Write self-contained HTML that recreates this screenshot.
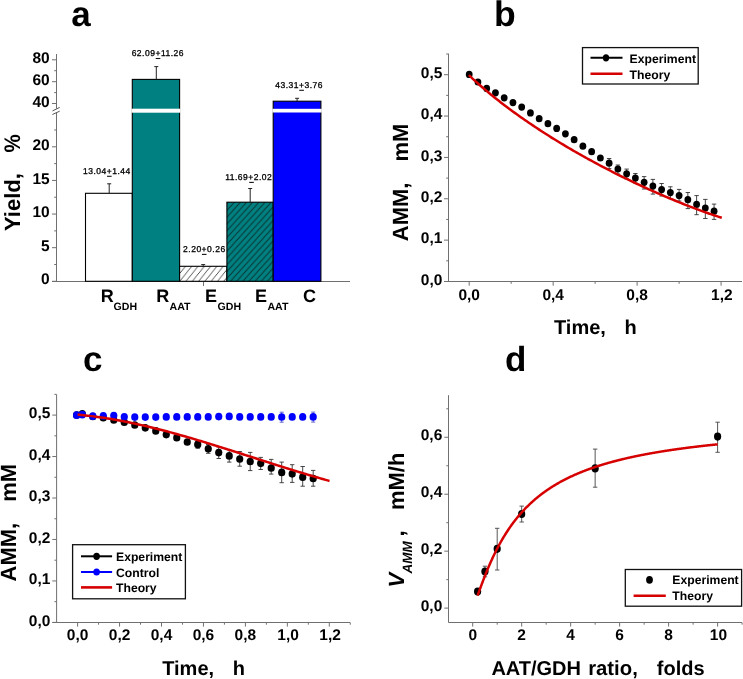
<!DOCTYPE html>
<html><head><meta charset="utf-8"><style>
html,body{margin:0;padding:0;background:#fff;}
svg{display:block;will-change:transform;}
text{font-family:"Liberation Sans",sans-serif;text-rendering:geometricPrecision;}
</style></head><body>
<svg width="743" height="679" viewBox="0 0 743 679">
<defs>
<pattern id="hatchW" patternUnits="userSpaceOnUse" width="6.3" height="7.8" x="180.07" y="0">
<rect width="6.3" height="7.8" fill="#fff"/>
<path d="M-1.575,1.95 L1.575,-1.95 M0,7.8 L6.3,0 M4.725,9.75 L7.875,5.85" stroke="#222" stroke-width="0.8"/>
</pattern>
<pattern id="hatchT" patternUnits="userSpaceOnUse" width="6.15" height="6.8" x="226.55" y="0">
<rect width="6.15" height="6.8" fill="#008080"/>
<path d="M-1.5375,1.7 L1.5375,-1.7 M0,6.8 L6.15,0 M4.6125,8.5 L7.6875,5.1" stroke="#0a3030" stroke-width="0.9"/>
</pattern>
</defs>
<rect width="743" height="679" fill="#fff"/>
<text x="71.30" y="25.50" font-size="35" font-weight="bold" font-style="normal" text-anchor="start" fill="#000" >a</text>
<line x1="56.50" y1="54.00" x2="56.50" y2="108.60" stroke="#707070" stroke-width="1"/>
<line x1="56.50" y1="112.90" x2="56.50" y2="281.50" stroke="#707070" stroke-width="1"/>
<line x1="52.50" y1="110.90" x2="59.70" y2="107.40" stroke="#555" stroke-width="1"/>
<line x1="52.40" y1="114.50" x2="59.70" y2="111.20" stroke="#555" stroke-width="1"/>
<line x1="52.00" y1="281.50" x2="350.00" y2="281.50" stroke="#707070" stroke-width="1"/>
<line x1="52.00" y1="59.80" x2="56.50" y2="59.80" stroke="#707070" stroke-width="1"/>
<text x="49.70" y="62.90" font-size="15.5" font-weight="bold" font-style="normal" text-anchor="end" fill="#000" >80</text>
<line x1="52.00" y1="81.70" x2="56.50" y2="81.70" stroke="#707070" stroke-width="1"/>
<text x="49.70" y="84.80" font-size="15.5" font-weight="bold" font-style="normal" text-anchor="end" fill="#000" >60</text>
<line x1="52.00" y1="103.50" x2="56.50" y2="103.50" stroke="#707070" stroke-width="1"/>
<text x="49.70" y="106.60" font-size="15.5" font-weight="bold" font-style="normal" text-anchor="end" fill="#000" >40</text>
<line x1="54.20" y1="70.70" x2="56.50" y2="70.70" stroke="#707070" stroke-width="1"/>
<line x1="54.20" y1="92.60" x2="56.50" y2="92.60" stroke="#707070" stroke-width="1"/>
<line x1="52.00" y1="281.30" x2="56.50" y2="281.30" stroke="#707070" stroke-width="1"/>
<text x="49.70" y="284.40" font-size="15.5" font-weight="bold" font-style="normal" text-anchor="end" fill="#000" >0</text>
<line x1="52.00" y1="247.68" x2="56.50" y2="247.68" stroke="#707070" stroke-width="1"/>
<text x="49.70" y="250.78" font-size="15.5" font-weight="bold" font-style="normal" text-anchor="end" fill="#000" >5</text>
<line x1="52.00" y1="214.05" x2="56.50" y2="214.05" stroke="#707070" stroke-width="1"/>
<text x="49.70" y="217.15" font-size="15.5" font-weight="bold" font-style="normal" text-anchor="end" fill="#000" >10</text>
<line x1="52.00" y1="180.43" x2="56.50" y2="180.43" stroke="#707070" stroke-width="1"/>
<text x="49.70" y="183.53" font-size="15.5" font-weight="bold" font-style="normal" text-anchor="end" fill="#000" >15</text>
<line x1="52.00" y1="146.80" x2="56.50" y2="146.80" stroke="#707070" stroke-width="1"/>
<text x="49.70" y="149.90" font-size="15.5" font-weight="bold" font-style="normal" text-anchor="end" fill="#000" >20</text>
<line x1="54.20" y1="264.49" x2="56.50" y2="264.49" stroke="#707070" stroke-width="1"/>
<line x1="54.20" y1="230.86" x2="56.50" y2="230.86" stroke="#707070" stroke-width="1"/>
<line x1="54.20" y1="197.24" x2="56.50" y2="197.24" stroke="#707070" stroke-width="1"/>
<line x1="54.20" y1="163.61" x2="56.50" y2="163.61" stroke="#707070" stroke-width="1"/>
<line x1="54.20" y1="129.99" x2="56.50" y2="129.99" stroke="#707070" stroke-width="1"/>
<line x1="203.50" y1="281.50" x2="203.50" y2="286.00" stroke="#707070" stroke-width="1"/>
<rect x="85.50" y="193.30" width="46.80" height="88.00" fill="#fff" stroke="#000" stroke-width="1.1"/>
<rect x="132.30" y="79.40" width="47.30" height="201.90" fill="#008080" stroke="#000" stroke-width="1.1"/>
<rect x="131.50" y="108.70" width="48.90" height="4.00" fill="#fff"/>
<rect x="179.60" y="266.30" width="47.30" height="15.00" fill="url(#hatchW)" stroke="#000" stroke-width="1.1"/>
<rect x="226.90" y="202.20" width="46.30" height="79.10" fill="url(#hatchT)" stroke="#000" stroke-width="1.1"/>
<rect x="273.20" y="101.20" width="47.70" height="180.10" fill="#0000ff" stroke="#000" stroke-width="1.1"/>
<rect x="272.40" y="108.80" width="49.30" height="3.70" fill="#fff"/>
<line x1="109.20" y1="183.80" x2="109.20" y2="193.30" stroke="#222" stroke-width="1"/>
<line x1="107.20" y1="183.80" x2="111.20" y2="183.80" stroke="#222" stroke-width="1"/>
<line x1="156.30" y1="66.60" x2="156.30" y2="79.40" stroke="#222" stroke-width="1"/>
<line x1="154.30" y1="66.60" x2="158.30" y2="66.60" stroke="#222" stroke-width="1"/>
<line x1="203.20" y1="264.60" x2="203.20" y2="266.30" stroke="#222" stroke-width="1"/>
<line x1="201.20" y1="264.60" x2="205.20" y2="264.60" stroke="#222" stroke-width="1"/>
<line x1="250.20" y1="188.50" x2="250.20" y2="202.20" stroke="#222" stroke-width="1"/>
<line x1="248.20" y1="188.50" x2="252.20" y2="188.50" stroke="#222" stroke-width="1"/>
<line x1="297.10" y1="98.30" x2="297.10" y2="101.20" stroke="#222" stroke-width="1"/>
<line x1="295.10" y1="98.30" x2="299.10" y2="98.30" stroke="#222" stroke-width="1"/>
<text x="82.96" y="174.00" font-size="8.5" letter-spacing="0.5" font-weight="normal" stroke="#000" stroke-width="0.3">13.04+1.44</text>
<line x1="107.03" y1="176.30" x2="111.63" y2="176.30" stroke="#111" stroke-width="1.1"/>
<text x="131.65" y="56.20" font-size="8.5" letter-spacing="0.5" font-weight="normal" stroke="#000" stroke-width="0.3">62.09+11.26</text>
<line x1="155.72" y1="58.50" x2="160.32" y2="58.50" stroke="#111" stroke-width="1.1"/>
<text x="183.08" y="252.10" font-size="8.5" letter-spacing="0.5" font-weight="normal" stroke="#000" stroke-width="0.3">2.20+0.26</text>
<line x1="201.92" y1="254.40" x2="206.52" y2="254.40" stroke="#111" stroke-width="1.1"/>
<text x="225.16" y="180.10" font-size="8.5" letter-spacing="0.5" font-weight="normal" stroke="#000" stroke-width="0.3">11.69+2.02</text>
<line x1="249.23" y1="182.40" x2="253.83" y2="182.40" stroke="#111" stroke-width="1.1"/>
<text x="275.21" y="88.00" font-size="8.5" letter-spacing="0.5" font-weight="normal" stroke="#000" stroke-width="0.3">43.31+3.76</text>
<line x1="299.28" y1="90.30" x2="303.88" y2="90.30" stroke="#111" stroke-width="1.1"/>
<text x="100.75" y="302.40" font-size="18" font-weight="bold" font-style="normal" text-anchor="start" fill="#000" >R</text>
<text x="113.60" y="309.60" font-size="10.6" font-weight="bold" font-style="normal" text-anchor="start" fill="#000" >GDH</text>
<text x="156.15" y="302.40" font-size="18" font-weight="bold" font-style="normal" text-anchor="start" fill="#000" >R</text>
<text x="169.50" y="309.60" font-size="10.6" font-weight="bold" font-style="normal" text-anchor="start" fill="#000" >AAT</text>
<text x="205.10" y="302.40" font-size="18" font-weight="bold" font-style="normal" text-anchor="start" fill="#000" >E</text>
<text x="217.50" y="309.60" font-size="10.6" font-weight="bold" font-style="normal" text-anchor="start" fill="#000" >GDH</text>
<text x="255.10" y="302.40" font-size="18" font-weight="bold" font-style="normal" text-anchor="start" fill="#000" >E</text>
<text x="267.40" y="309.60" font-size="10.6" font-weight="bold" font-style="normal" text-anchor="start" fill="#000" >AAT</text>
<text x="303.00" y="302.40" font-size="18" font-weight="bold" font-style="normal" text-anchor="start" fill="#000" >C</text>
<text transform="translate(20.00,231.00) rotate(-90)" font-size="22" font-weight="bold" font-style="normal">Yield,</text>
<text transform="translate(20.30,152.40) rotate(-90) scale(1,1.1)" font-size="20.5" font-weight="bold" font-style="normal">%</text>
<text x="494.00" y="25.80" font-size="35.5" font-weight="bold" font-style="normal" text-anchor="start" fill="#000" >b</text>
<line x1="448.50" y1="53.70" x2="448.50" y2="281.50" stroke="#707070" stroke-width="1"/>
<line x1="444.00" y1="281.50" x2="742.00" y2="281.50" stroke="#707070" stroke-width="1"/>
<line x1="444.00" y1="281.50" x2="448.50" y2="281.50" stroke="#707070" stroke-width="1"/>
<text x="442.40" y="284.60" font-size="15.5" font-weight="bold" font-style="normal" text-anchor="end" fill="#000" >0,0</text>
<line x1="444.00" y1="240.14" x2="448.50" y2="240.14" stroke="#707070" stroke-width="1"/>
<text x="442.40" y="243.24" font-size="15.5" font-weight="bold" font-style="normal" text-anchor="end" fill="#000" >0,1</text>
<line x1="444.00" y1="198.78" x2="448.50" y2="198.78" stroke="#707070" stroke-width="1"/>
<text x="442.40" y="201.88" font-size="15.5" font-weight="bold" font-style="normal" text-anchor="end" fill="#000" >0,2</text>
<line x1="444.00" y1="157.42" x2="448.50" y2="157.42" stroke="#707070" stroke-width="1"/>
<text x="442.40" y="160.52" font-size="15.5" font-weight="bold" font-style="normal" text-anchor="end" fill="#000" >0,3</text>
<line x1="444.00" y1="116.06" x2="448.50" y2="116.06" stroke="#707070" stroke-width="1"/>
<text x="442.40" y="119.16" font-size="15.5" font-weight="bold" font-style="normal" text-anchor="end" fill="#000" >0,4</text>
<line x1="444.00" y1="74.70" x2="448.50" y2="74.70" stroke="#707070" stroke-width="1"/>
<text x="442.40" y="77.80" font-size="15.5" font-weight="bold" font-style="normal" text-anchor="end" fill="#000" >0,5</text>
<line x1="446.20" y1="260.82" x2="448.50" y2="260.82" stroke="#707070" stroke-width="1"/>
<line x1="446.20" y1="219.46" x2="448.50" y2="219.46" stroke="#707070" stroke-width="1"/>
<line x1="446.20" y1="178.10" x2="448.50" y2="178.10" stroke="#707070" stroke-width="1"/>
<line x1="446.20" y1="136.74" x2="448.50" y2="136.74" stroke="#707070" stroke-width="1"/>
<line x1="446.20" y1="95.38" x2="448.50" y2="95.38" stroke="#707070" stroke-width="1"/>
<line x1="446.20" y1="54.02" x2="448.50" y2="54.02" stroke="#707070" stroke-width="1"/>
<line x1="469.20" y1="281.50" x2="469.20" y2="285.70" stroke="#707070" stroke-width="1"/>
<text x="469.20" y="300.10" font-size="15.5" font-weight="bold" font-style="normal" text-anchor="middle" fill="#000" >0,0</text>
<line x1="553.16" y1="281.50" x2="553.16" y2="285.70" stroke="#707070" stroke-width="1"/>
<text x="553.16" y="300.10" font-size="15.5" font-weight="bold" font-style="normal" text-anchor="middle" fill="#000" >0,4</text>
<line x1="637.12" y1="281.50" x2="637.12" y2="285.70" stroke="#707070" stroke-width="1"/>
<text x="637.12" y="300.10" font-size="15.5" font-weight="bold" font-style="normal" text-anchor="middle" fill="#000" >0,8</text>
<line x1="721.08" y1="281.50" x2="721.08" y2="285.70" stroke="#707070" stroke-width="1"/>
<text x="721.88" y="300.10" font-size="15.5" font-weight="bold" font-style="normal" text-anchor="middle" fill="#000" >1,2</text>
<line x1="511.18" y1="281.50" x2="511.18" y2="283.80" stroke="#707070" stroke-width="1"/>
<line x1="595.14" y1="281.50" x2="595.14" y2="283.80" stroke="#707070" stroke-width="1"/>
<line x1="679.10" y1="281.50" x2="679.10" y2="283.80" stroke="#707070" stroke-width="1"/>
<text x="554.00" y="333.90" font-size="20" font-weight="bold" font-style="normal" text-anchor="start" fill="#000" >Time,</text>
<text x="624.60" y="333.90" font-size="20" font-weight="bold" font-style="normal" text-anchor="start" fill="#000" >h</text>
<text transform="translate(408.00,241.20) rotate(-90)" font-size="22" font-weight="bold" font-style="normal">AMM,</text>
<text transform="translate(408.00,161.50) rotate(-90)" font-size="22" font-weight="bold" font-style="normal">mM</text>
<line x1="609.14" y1="158.50" x2="609.14" y2="168.60" stroke="#333" stroke-width="0.9"/>
<line x1="606.94" y1="158.50" x2="611.34" y2="158.50" stroke="#333" stroke-width="0.9"/>
<line x1="606.94" y1="168.60" x2="611.34" y2="168.60" stroke="#333" stroke-width="0.9"/>
<line x1="617.88" y1="165.00" x2="617.88" y2="174.00" stroke="#333" stroke-width="0.9"/>
<line x1="615.68" y1="165.00" x2="620.08" y2="165.00" stroke="#333" stroke-width="0.9"/>
<line x1="615.68" y1="174.00" x2="620.08" y2="174.00" stroke="#333" stroke-width="0.9"/>
<line x1="626.63" y1="169.10" x2="626.63" y2="179.00" stroke="#333" stroke-width="0.9"/>
<line x1="624.43" y1="169.10" x2="628.83" y2="169.10" stroke="#333" stroke-width="0.9"/>
<line x1="624.43" y1="179.00" x2="628.83" y2="179.00" stroke="#333" stroke-width="0.9"/>
<line x1="635.37" y1="173.50" x2="635.37" y2="183.00" stroke="#333" stroke-width="0.9"/>
<line x1="633.17" y1="173.50" x2="637.57" y2="173.50" stroke="#333" stroke-width="0.9"/>
<line x1="633.17" y1="183.00" x2="637.57" y2="183.00" stroke="#333" stroke-width="0.9"/>
<line x1="644.12" y1="176.60" x2="644.12" y2="189.00" stroke="#333" stroke-width="0.9"/>
<line x1="641.92" y1="176.60" x2="646.32" y2="176.60" stroke="#333" stroke-width="0.9"/>
<line x1="641.92" y1="189.00" x2="646.32" y2="189.00" stroke="#333" stroke-width="0.9"/>
<line x1="652.87" y1="179.40" x2="652.87" y2="194.10" stroke="#333" stroke-width="0.9"/>
<line x1="650.67" y1="179.40" x2="655.07" y2="179.40" stroke="#333" stroke-width="0.9"/>
<line x1="650.67" y1="194.10" x2="655.07" y2="194.10" stroke="#333" stroke-width="0.9"/>
<line x1="661.61" y1="183.50" x2="661.61" y2="196.00" stroke="#333" stroke-width="0.9"/>
<line x1="659.41" y1="183.50" x2="663.81" y2="183.50" stroke="#333" stroke-width="0.9"/>
<line x1="659.41" y1="196.00" x2="663.81" y2="196.00" stroke="#333" stroke-width="0.9"/>
<line x1="670.36" y1="186.80" x2="670.36" y2="198.50" stroke="#333" stroke-width="0.9"/>
<line x1="668.16" y1="186.80" x2="672.56" y2="186.80" stroke="#333" stroke-width="0.9"/>
<line x1="668.16" y1="198.50" x2="672.56" y2="198.50" stroke="#333" stroke-width="0.9"/>
<line x1="679.10" y1="189.40" x2="679.10" y2="201.00" stroke="#333" stroke-width="0.9"/>
<line x1="676.90" y1="189.40" x2="681.30" y2="189.40" stroke="#333" stroke-width="0.9"/>
<line x1="676.90" y1="201.00" x2="681.30" y2="201.00" stroke="#333" stroke-width="0.9"/>
<line x1="687.85" y1="192.50" x2="687.85" y2="208.60" stroke="#333" stroke-width="0.9"/>
<line x1="685.65" y1="192.50" x2="690.05" y2="192.50" stroke="#333" stroke-width="0.9"/>
<line x1="685.65" y1="208.60" x2="690.05" y2="208.60" stroke="#333" stroke-width="0.9"/>
<line x1="696.60" y1="195.60" x2="696.60" y2="214.70" stroke="#333" stroke-width="0.9"/>
<line x1="694.40" y1="195.60" x2="698.80" y2="195.60" stroke="#333" stroke-width="0.9"/>
<line x1="694.40" y1="214.70" x2="698.80" y2="214.70" stroke="#333" stroke-width="0.9"/>
<line x1="705.34" y1="199.40" x2="705.34" y2="218.50" stroke="#333" stroke-width="0.9"/>
<line x1="703.14" y1="199.40" x2="707.54" y2="199.40" stroke="#333" stroke-width="0.9"/>
<line x1="703.14" y1="218.50" x2="707.54" y2="218.50" stroke="#333" stroke-width="0.9"/>
<line x1="714.09" y1="204.10" x2="714.09" y2="219.40" stroke="#333" stroke-width="0.9"/>
<line x1="711.89" y1="204.10" x2="716.29" y2="204.10" stroke="#333" stroke-width="0.9"/>
<line x1="711.89" y1="219.40" x2="716.29" y2="219.40" stroke="#333" stroke-width="0.9"/>
<ellipse cx="469.20" cy="74.40" rx="3.4" ry="3.6" fill="#000"/>
<ellipse cx="477.95" cy="82.00" rx="3.4" ry="3.6" fill="#000"/>
<ellipse cx="486.69" cy="88.40" rx="3.4" ry="3.6" fill="#000"/>
<ellipse cx="495.44" cy="92.80" rx="3.4" ry="3.6" fill="#000"/>
<ellipse cx="504.18" cy="97.80" rx="3.4" ry="3.6" fill="#000"/>
<ellipse cx="512.93" cy="102.60" rx="3.4" ry="3.6" fill="#000"/>
<ellipse cx="521.68" cy="107.10" rx="3.4" ry="3.6" fill="#000"/>
<ellipse cx="530.42" cy="112.90" rx="3.4" ry="3.6" fill="#000"/>
<ellipse cx="539.17" cy="118.70" rx="3.4" ry="3.6" fill="#000"/>
<ellipse cx="547.91" cy="123.70" rx="3.4" ry="3.6" fill="#000"/>
<ellipse cx="556.66" cy="128.40" rx="3.4" ry="3.6" fill="#000"/>
<ellipse cx="565.41" cy="133.80" rx="3.4" ry="3.6" fill="#000"/>
<ellipse cx="574.15" cy="139.70" rx="3.4" ry="3.6" fill="#000"/>
<ellipse cx="582.90" cy="146.20" rx="3.4" ry="3.6" fill="#000"/>
<ellipse cx="591.64" cy="151.70" rx="3.4" ry="3.6" fill="#000"/>
<ellipse cx="600.39" cy="158.00" rx="3.4" ry="3.6" fill="#000"/>
<ellipse cx="609.14" cy="163.20" rx="3.4" ry="3.6" fill="#000"/>
<ellipse cx="617.88" cy="169.00" rx="3.4" ry="3.6" fill="#000"/>
<ellipse cx="626.63" cy="173.80" rx="3.4" ry="3.6" fill="#000"/>
<ellipse cx="635.37" cy="178.10" rx="3.4" ry="3.6" fill="#000"/>
<ellipse cx="644.12" cy="182.30" rx="3.4" ry="3.6" fill="#000"/>
<ellipse cx="652.87" cy="186.10" rx="3.4" ry="3.6" fill="#000"/>
<ellipse cx="661.61" cy="189.60" rx="3.4" ry="3.6" fill="#000"/>
<ellipse cx="670.36" cy="192.60" rx="3.4" ry="3.6" fill="#000"/>
<ellipse cx="679.10" cy="195.60" rx="3.4" ry="3.6" fill="#000"/>
<ellipse cx="687.85" cy="199.70" rx="3.4" ry="3.6" fill="#000"/>
<ellipse cx="696.60" cy="204.40" rx="3.4" ry="3.6" fill="#000"/>
<ellipse cx="705.34" cy="208.00" rx="3.4" ry="3.6" fill="#000"/>
<ellipse cx="714.09" cy="211.20" rx="3.4" ry="3.6" fill="#000"/>
<polyline points="468.80,75.07 470.80,76.95 472.80,78.81 474.80,80.64 476.80,82.44 478.80,84.22 480.80,85.98 482.80,87.71 484.80,89.42 486.80,91.11 488.80,92.78 490.80,94.43 492.80,96.06 494.80,97.67 496.80,99.26 498.80,100.83 500.80,102.39 502.80,103.93 504.80,105.46 506.80,106.97 508.80,108.46 510.80,109.95 512.80,111.41 514.80,112.87 516.80,114.31 518.80,115.74 520.80,117.16 522.80,118.56 524.80,119.95 526.80,121.33 528.80,122.70 530.80,124.06 532.80,125.40 534.80,126.74 536.80,128.07 538.80,129.38 540.80,130.69 542.80,131.98 544.80,133.27 546.80,134.55 548.80,135.81 550.80,137.07 552.80,138.32 554.80,139.56 556.80,140.79 558.80,142.01 560.80,143.22 562.80,144.43 564.80,145.62 566.80,146.81 568.80,147.99 570.80,149.16 572.80,150.32 574.80,151.47 576.80,152.62 578.80,153.76 580.80,154.89 582.80,156.01 584.80,157.13 586.80,158.24 588.80,159.34 590.80,160.43 592.80,161.52 594.80,162.60 596.80,163.67 598.80,164.74 600.80,165.80 602.80,166.85 604.80,167.90 606.80,168.94 608.80,169.97 610.80,171.00 612.80,172.02 614.80,173.03 616.80,174.04 618.80,175.04 620.80,176.03 622.80,177.02 624.80,178.00 626.80,178.98 628.80,179.95 630.80,180.91 632.80,181.86 634.80,182.81 636.80,183.76 638.80,184.69 640.80,185.63 642.80,186.55 644.80,187.47 646.80,188.38 648.80,189.29 650.80,190.19 652.80,191.08 654.80,191.97 656.80,192.85 658.80,193.73 660.80,194.60 662.80,195.46 664.80,196.32 666.80,197.17 668.80,198.02 670.80,198.86 672.80,199.69 674.80,200.52 676.80,201.34 678.80,202.15 680.80,202.96 682.80,203.76 684.80,204.55 686.80,205.34 688.80,206.12 690.80,206.89 692.80,207.66 694.80,208.42 696.80,209.17 698.80,209.91 700.80,210.64 702.80,211.37 704.80,212.08 706.80,212.79 708.80,213.49 710.80,214.18 712.80,214.85 714.80,215.52 716.80,216.18 718.80,216.83 720.80,217.47 721.80,217.78" fill="none" stroke="#d60000" stroke-width="2.5" stroke-linejoin="round" stroke-linecap="butt"/>
<rect x="582.5" y="47.6" width="115.7" height="36.4" fill="#fff" stroke="#111" stroke-width="1.3"/>
<line x1="590.50" y1="57.80" x2="622.50" y2="57.80" stroke="#000" stroke-width="2"/>
<ellipse cx="606.00" cy="57.80" rx="3.2" ry="3.6" fill="#000"/>
<line x1="590.50" y1="73.80" x2="622.50" y2="73.80" stroke="#d60000" stroke-width="2.6"/>
<text x="629.60" y="62.50" font-size="12.2" font-weight="bold" font-style="normal" text-anchor="start" fill="#000" >Experiment</text>
<text x="629.60" y="78.50" font-size="12.2" font-weight="bold" font-style="normal" text-anchor="start" fill="#000" >Theory</text>
<text x="83.00" y="371.20" font-size="35" font-weight="bold" font-style="normal" text-anchor="start" fill="#000" >c</text>
<line x1="56.60" y1="394.50" x2="56.60" y2="622.30" stroke="#707070" stroke-width="1"/>
<line x1="52.30" y1="622.50" x2="350.10" y2="622.50" stroke="#707070" stroke-width="1"/>
<line x1="52.30" y1="622.40" x2="56.60" y2="622.40" stroke="#707070" stroke-width="1"/>
<text x="50.40" y="625.50" font-size="15.5" font-weight="bold" font-style="normal" text-anchor="end" fill="#000" >0,0</text>
<line x1="52.30" y1="580.94" x2="56.60" y2="580.94" stroke="#707070" stroke-width="1"/>
<text x="50.40" y="584.04" font-size="15.5" font-weight="bold" font-style="normal" text-anchor="end" fill="#000" >0,1</text>
<line x1="52.30" y1="539.48" x2="56.60" y2="539.48" stroke="#707070" stroke-width="1"/>
<text x="50.40" y="542.58" font-size="15.5" font-weight="bold" font-style="normal" text-anchor="end" fill="#000" >0,2</text>
<line x1="52.30" y1="498.02" x2="56.60" y2="498.02" stroke="#707070" stroke-width="1"/>
<text x="50.40" y="501.12" font-size="15.5" font-weight="bold" font-style="normal" text-anchor="end" fill="#000" >0,3</text>
<line x1="52.30" y1="456.56" x2="56.60" y2="456.56" stroke="#707070" stroke-width="1"/>
<text x="50.40" y="459.66" font-size="15.5" font-weight="bold" font-style="normal" text-anchor="end" fill="#000" >0,4</text>
<line x1="52.30" y1="415.10" x2="56.60" y2="415.10" stroke="#707070" stroke-width="1"/>
<text x="50.40" y="418.20" font-size="15.5" font-weight="bold" font-style="normal" text-anchor="end" fill="#000" >0,5</text>
<line x1="54.40" y1="601.67" x2="56.60" y2="601.67" stroke="#707070" stroke-width="1"/>
<line x1="54.40" y1="560.21" x2="56.60" y2="560.21" stroke="#707070" stroke-width="1"/>
<line x1="54.40" y1="518.75" x2="56.60" y2="518.75" stroke="#707070" stroke-width="1"/>
<line x1="54.40" y1="477.29" x2="56.60" y2="477.29" stroke="#707070" stroke-width="1"/>
<line x1="54.40" y1="435.83" x2="56.60" y2="435.83" stroke="#707070" stroke-width="1"/>
<line x1="54.40" y1="394.37" x2="56.60" y2="394.37" stroke="#707070" stroke-width="1"/>
<line x1="77.60" y1="622.50" x2="77.60" y2="626.60" stroke="#707070" stroke-width="1"/>
<text x="77.60" y="640.00" font-size="15.5" font-weight="bold" font-style="normal" text-anchor="middle" fill="#000" >0,0</text>
<line x1="119.55" y1="622.50" x2="119.55" y2="626.60" stroke="#707070" stroke-width="1"/>
<text x="119.55" y="640.00" font-size="15.5" font-weight="bold" font-style="normal" text-anchor="middle" fill="#000" >0,2</text>
<line x1="161.50" y1="622.50" x2="161.50" y2="626.60" stroke="#707070" stroke-width="1"/>
<text x="161.50" y="640.00" font-size="15.5" font-weight="bold" font-style="normal" text-anchor="middle" fill="#000" >0,4</text>
<line x1="203.45" y1="622.50" x2="203.45" y2="626.60" stroke="#707070" stroke-width="1"/>
<text x="203.45" y="640.00" font-size="15.5" font-weight="bold" font-style="normal" text-anchor="middle" fill="#000" >0,6</text>
<line x1="245.40" y1="622.50" x2="245.40" y2="626.60" stroke="#707070" stroke-width="1"/>
<text x="245.40" y="640.00" font-size="15.5" font-weight="bold" font-style="normal" text-anchor="middle" fill="#000" >0,8</text>
<line x1="287.35" y1="622.50" x2="287.35" y2="626.60" stroke="#707070" stroke-width="1"/>
<text x="288.15" y="640.00" font-size="15.5" font-weight="bold" font-style="normal" text-anchor="middle" fill="#000" >1,0</text>
<line x1="329.30" y1="622.50" x2="329.30" y2="626.60" stroke="#707070" stroke-width="1"/>
<text x="330.10" y="640.00" font-size="15.5" font-weight="bold" font-style="normal" text-anchor="middle" fill="#000" >1,2</text>
<line x1="98.57" y1="622.50" x2="98.57" y2="624.70" stroke="#707070" stroke-width="1"/>
<line x1="140.53" y1="622.50" x2="140.53" y2="624.70" stroke="#707070" stroke-width="1"/>
<line x1="182.47" y1="622.50" x2="182.47" y2="624.70" stroke="#707070" stroke-width="1"/>
<line x1="224.43" y1="622.50" x2="224.43" y2="624.70" stroke="#707070" stroke-width="1"/>
<line x1="266.38" y1="622.50" x2="266.38" y2="624.70" stroke="#707070" stroke-width="1"/>
<line x1="308.33" y1="622.50" x2="308.33" y2="624.70" stroke="#707070" stroke-width="1"/>
<line x1="350.28" y1="622.50" x2="350.28" y2="624.70" stroke="#707070" stroke-width="1"/>
<text x="162.20" y="674.70" font-size="20" font-weight="bold" font-style="normal" text-anchor="start" fill="#000" >Time,</text>
<text x="232.80" y="674.70" font-size="20" font-weight="bold" font-style="normal" text-anchor="start" fill="#000" >h</text>
<text transform="translate(15.80,581.50) rotate(-90)" font-size="22" font-weight="bold" font-style="normal">AMM,</text>
<text transform="translate(15.80,501.80) rotate(-90)" font-size="22" font-weight="bold" font-style="normal">mM</text>
<line x1="197.75" y1="441.50" x2="197.75" y2="448.30" stroke="#333" stroke-width="0.9"/>
<line x1="195.55" y1="441.50" x2="199.94" y2="441.50" stroke="#333" stroke-width="0.9"/>
<line x1="195.55" y1="448.30" x2="199.94" y2="448.30" stroke="#333" stroke-width="0.9"/>
<line x1="208.24" y1="444.50" x2="208.24" y2="453.30" stroke="#333" stroke-width="0.9"/>
<line x1="206.04" y1="444.50" x2="210.44" y2="444.50" stroke="#333" stroke-width="0.9"/>
<line x1="206.04" y1="453.30" x2="210.44" y2="453.30" stroke="#333" stroke-width="0.9"/>
<line x1="218.74" y1="447.00" x2="218.74" y2="458.50" stroke="#333" stroke-width="0.9"/>
<line x1="216.54" y1="447.00" x2="220.94" y2="447.00" stroke="#333" stroke-width="0.9"/>
<line x1="216.54" y1="458.50" x2="220.94" y2="458.50" stroke="#333" stroke-width="0.9"/>
<line x1="229.23" y1="449.80" x2="229.23" y2="462.10" stroke="#333" stroke-width="0.9"/>
<line x1="227.03" y1="449.80" x2="231.43" y2="449.80" stroke="#333" stroke-width="0.9"/>
<line x1="227.03" y1="462.10" x2="231.43" y2="462.10" stroke="#333" stroke-width="0.9"/>
<line x1="239.72" y1="451.50" x2="239.72" y2="466.20" stroke="#333" stroke-width="0.9"/>
<line x1="237.52" y1="451.50" x2="241.92" y2="451.50" stroke="#333" stroke-width="0.9"/>
<line x1="237.52" y1="466.20" x2="241.92" y2="466.20" stroke="#333" stroke-width="0.9"/>
<line x1="250.22" y1="452.40" x2="250.22" y2="470.60" stroke="#333" stroke-width="0.9"/>
<line x1="248.02" y1="452.40" x2="252.42" y2="452.40" stroke="#333" stroke-width="0.9"/>
<line x1="248.02" y1="470.60" x2="252.42" y2="470.60" stroke="#333" stroke-width="0.9"/>
<line x1="260.71" y1="457.40" x2="260.71" y2="469.50" stroke="#333" stroke-width="0.9"/>
<line x1="258.51" y1="457.40" x2="262.91" y2="457.40" stroke="#333" stroke-width="0.9"/>
<line x1="258.51" y1="469.50" x2="262.91" y2="469.50" stroke="#333" stroke-width="0.9"/>
<line x1="271.21" y1="459.40" x2="271.21" y2="474.10" stroke="#333" stroke-width="0.9"/>
<line x1="269.01" y1="459.40" x2="273.41" y2="459.40" stroke="#333" stroke-width="0.9"/>
<line x1="269.01" y1="474.10" x2="273.41" y2="474.10" stroke="#333" stroke-width="0.9"/>
<line x1="281.70" y1="462.10" x2="281.70" y2="482.70" stroke="#333" stroke-width="0.9"/>
<line x1="279.50" y1="462.10" x2="283.90" y2="462.10" stroke="#333" stroke-width="0.9"/>
<line x1="279.50" y1="482.70" x2="283.90" y2="482.70" stroke="#333" stroke-width="0.9"/>
<line x1="292.20" y1="464.70" x2="292.20" y2="482.40" stroke="#333" stroke-width="0.9"/>
<line x1="290.00" y1="464.70" x2="294.40" y2="464.70" stroke="#333" stroke-width="0.9"/>
<line x1="290.00" y1="482.40" x2="294.40" y2="482.40" stroke="#333" stroke-width="0.9"/>
<line x1="302.69" y1="466.50" x2="302.69" y2="486.20" stroke="#333" stroke-width="0.9"/>
<line x1="300.50" y1="466.50" x2="304.89" y2="466.50" stroke="#333" stroke-width="0.9"/>
<line x1="300.50" y1="486.20" x2="304.89" y2="486.20" stroke="#333" stroke-width="0.9"/>
<line x1="313.19" y1="470.40" x2="313.19" y2="486.20" stroke="#333" stroke-width="0.9"/>
<line x1="310.99" y1="470.40" x2="315.39" y2="470.40" stroke="#333" stroke-width="0.9"/>
<line x1="310.99" y1="486.20" x2="315.39" y2="486.20" stroke="#333" stroke-width="0.9"/>
<ellipse cx="76.60" cy="415.00" rx="3.6" ry="3.85" fill="#000"/>
<ellipse cx="82.30" cy="413.80" rx="3.6" ry="3.85" fill="#000"/>
<ellipse cx="92.80" cy="416.50" rx="3.6" ry="3.85" fill="#000"/>
<ellipse cx="103.29" cy="417.70" rx="3.6" ry="3.85" fill="#000"/>
<ellipse cx="113.78" cy="420.00" rx="3.6" ry="3.85" fill="#000"/>
<ellipse cx="124.28" cy="422.20" rx="3.6" ry="3.85" fill="#000"/>
<ellipse cx="134.77" cy="425.00" rx="3.6" ry="3.85" fill="#000"/>
<ellipse cx="145.27" cy="427.80" rx="3.6" ry="3.85" fill="#000"/>
<ellipse cx="155.76" cy="430.90" rx="3.6" ry="3.85" fill="#000"/>
<ellipse cx="166.26" cy="434.60" rx="3.6" ry="3.85" fill="#000"/>
<ellipse cx="176.75" cy="437.70" rx="3.6" ry="3.85" fill="#000"/>
<ellipse cx="187.25" cy="442.00" rx="3.6" ry="3.85" fill="#000"/>
<ellipse cx="197.75" cy="444.40" rx="3.6" ry="3.85" fill="#000"/>
<ellipse cx="208.24" cy="448.80" rx="3.6" ry="3.85" fill="#000"/>
<ellipse cx="218.74" cy="452.60" rx="3.6" ry="3.85" fill="#000"/>
<ellipse cx="229.23" cy="455.90" rx="3.6" ry="3.85" fill="#000"/>
<ellipse cx="239.72" cy="459.00" rx="3.6" ry="3.85" fill="#000"/>
<ellipse cx="250.22" cy="461.50" rx="3.6" ry="3.85" fill="#000"/>
<ellipse cx="260.71" cy="463.30" rx="3.6" ry="3.85" fill="#000"/>
<ellipse cx="271.21" cy="468.00" rx="3.6" ry="3.85" fill="#000"/>
<ellipse cx="281.70" cy="472.40" rx="3.6" ry="3.85" fill="#000"/>
<ellipse cx="292.20" cy="473.80" rx="3.6" ry="3.85" fill="#000"/>
<ellipse cx="302.69" cy="477.20" rx="3.6" ry="3.85" fill="#000"/>
<ellipse cx="313.19" cy="478.50" rx="3.6" ry="3.85" fill="#000"/>
<line x1="281.70" y1="412.20" x2="281.70" y2="422.20" stroke="#5555cc" stroke-width="0.9"/>
<line x1="279.70" y1="412.20" x2="283.70" y2="412.20" stroke="#5555cc" stroke-width="0.9"/>
<line x1="279.70" y1="422.20" x2="283.70" y2="422.20" stroke="#5555cc" stroke-width="0.9"/>
<line x1="313.19" y1="412.10" x2="313.19" y2="422.10" stroke="#5555cc" stroke-width="0.9"/>
<line x1="311.19" y1="412.10" x2="315.19" y2="412.10" stroke="#5555cc" stroke-width="0.9"/>
<line x1="311.19" y1="422.10" x2="315.19" y2="422.10" stroke="#5555cc" stroke-width="0.9"/>
<ellipse cx="76.60" cy="415.20" rx="3.6" ry="3.85" fill="#0000ff"/>
<ellipse cx="82.30" cy="414.70" rx="3.6" ry="3.85" fill="#0000ff"/>
<ellipse cx="92.80" cy="416.20" rx="3.6" ry="3.85" fill="#0000ff"/>
<ellipse cx="103.29" cy="415.90" rx="3.6" ry="3.85" fill="#0000ff"/>
<ellipse cx="113.78" cy="415.60" rx="3.6" ry="3.85" fill="#0000ff"/>
<ellipse cx="124.28" cy="416.80" rx="3.6" ry="3.85" fill="#0000ff"/>
<ellipse cx="134.77" cy="417.10" rx="3.6" ry="3.85" fill="#0000ff"/>
<ellipse cx="145.27" cy="417.10" rx="3.6" ry="3.85" fill="#0000ff"/>
<ellipse cx="155.76" cy="417.10" rx="3.6" ry="3.85" fill="#0000ff"/>
<ellipse cx="166.26" cy="416.90" rx="3.6" ry="3.85" fill="#0000ff"/>
<ellipse cx="176.75" cy="416.90" rx="3.6" ry="3.85" fill="#0000ff"/>
<ellipse cx="187.25" cy="416.90" rx="3.6" ry="3.85" fill="#0000ff"/>
<ellipse cx="197.75" cy="416.90" rx="3.6" ry="3.85" fill="#0000ff"/>
<ellipse cx="208.24" cy="416.90" rx="3.6" ry="3.85" fill="#0000ff"/>
<ellipse cx="218.74" cy="416.60" rx="3.6" ry="3.85" fill="#0000ff"/>
<ellipse cx="229.23" cy="416.40" rx="3.6" ry="3.85" fill="#0000ff"/>
<ellipse cx="239.72" cy="416.90" rx="3.6" ry="3.85" fill="#0000ff"/>
<ellipse cx="250.22" cy="416.90" rx="3.6" ry="3.85" fill="#0000ff"/>
<ellipse cx="260.71" cy="416.90" rx="3.6" ry="3.85" fill="#0000ff"/>
<ellipse cx="271.21" cy="416.90" rx="3.6" ry="3.85" fill="#0000ff"/>
<ellipse cx="281.70" cy="417.00" rx="3.6" ry="3.85" fill="#0000ff"/>
<ellipse cx="292.20" cy="416.90" rx="3.6" ry="3.85" fill="#0000ff"/>
<ellipse cx="302.69" cy="416.90" rx="3.6" ry="3.85" fill="#0000ff"/>
<ellipse cx="313.19" cy="416.90" rx="3.6" ry="3.85" fill="#0000ff"/>
<polyline points="77.60,414.61 79.60,414.79 81.60,414.99 83.60,415.20 85.60,415.41 87.60,415.64 89.60,415.88 91.60,416.12 93.60,416.38 95.60,416.64 97.60,416.92 99.60,417.20 101.60,417.50 103.60,417.80 105.60,418.11 107.60,418.43 109.60,418.76 111.60,419.10 113.60,419.44 115.60,419.80 117.60,420.16 119.60,420.53 121.60,420.91 123.60,421.30 125.60,421.70 127.60,422.10 129.60,422.51 131.60,422.93 133.60,423.35 135.60,423.78 137.60,424.22 139.60,424.67 141.60,425.12 143.60,425.58 145.60,426.05 147.60,426.52 149.60,427.00 151.60,427.48 153.60,427.98 155.60,428.47 157.60,428.98 159.60,429.49 161.60,430.00 163.60,430.52 165.60,431.05 167.60,431.58 169.60,432.11 171.60,432.65 173.60,433.20 175.60,433.75 177.60,434.30 179.60,434.86 181.60,435.43 183.60,436.00 185.60,436.57 187.60,437.15 189.60,437.73 191.60,438.31 193.60,438.90 195.60,439.49 197.60,440.09 199.60,440.68 201.60,441.29 203.60,441.89 205.60,442.50 207.60,443.11 209.60,443.72 211.60,444.34 213.60,444.96 215.60,445.58 217.60,446.20 219.60,446.83 221.60,447.45 223.60,448.08 225.60,448.71 227.60,449.35 229.60,449.98 231.60,450.62 233.60,451.25 235.60,451.89 237.60,452.53 239.60,453.17 241.60,453.81 243.60,454.45 245.60,455.09 247.60,455.73 249.60,456.38 251.60,457.02 253.60,457.66 255.60,458.31 257.60,458.95 259.60,459.59 261.60,460.23 263.60,460.87 265.60,461.51 267.60,462.15 269.60,462.79 271.60,463.43 273.60,464.07 275.60,464.70 277.60,465.34 279.60,465.97 281.60,466.60 283.60,467.23 285.60,467.86 287.60,468.49 289.60,469.11 291.60,469.73 293.60,470.35 295.60,470.97 297.60,471.58 299.60,472.19 301.60,472.80 303.60,473.41 305.60,474.01 307.60,474.61 309.60,475.20 311.60,475.80 313.60,476.39 315.60,476.97 317.60,477.55 319.60,478.13 321.60,478.70 323.60,479.27 325.60,479.84 327.60,480.40 329.50,480.93" fill="none" stroke="#d60000" stroke-width="2.5" stroke-linejoin="round" stroke-linecap="butt"/>
<rect x="72.6" y="544.7" width="112.8" height="54.1" fill="#fff" stroke="#111" stroke-width="1.3"/>
<line x1="81.00" y1="556.30" x2="112.10" y2="556.30" stroke="#000" stroke-width="2"/>
<ellipse cx="96.60" cy="556.30" rx="3.3" ry="3.6" fill="#000"/>
<line x1="81.00" y1="572.00" x2="112.10" y2="572.00" stroke="#0000ff" stroke-width="2"/>
<ellipse cx="96.60" cy="572.00" rx="3.3" ry="3.6" fill="#0000ff"/>
<line x1="81.00" y1="587.40" x2="112.10" y2="587.40" stroke="#d60000" stroke-width="2.6"/>
<text x="116.00" y="560.90" font-size="12.2" font-weight="bold" font-style="normal" text-anchor="start" fill="#000" >Experiment</text>
<text x="116.00" y="576.60" font-size="12.2" font-weight="bold" font-style="normal" text-anchor="start" fill="#000" >Control</text>
<text x="116.00" y="591.70" font-size="12.2" font-weight="bold" font-style="normal" text-anchor="start" fill="#000" >Theory</text>
<text x="505.00" y="371.00" font-size="35" font-weight="bold" font-style="normal" text-anchor="start" fill="#000" >d</text>
<line x1="448.50" y1="395.20" x2="448.50" y2="622.50" stroke="#707070" stroke-width="1"/>
<line x1="448.50" y1="622.50" x2="742.00" y2="622.50" stroke="#707070" stroke-width="1"/>
<line x1="444.30" y1="608.10" x2="448.50" y2="608.10" stroke="#707070" stroke-width="1"/>
<text x="442.30" y="611.20" font-size="15.5" font-weight="bold" font-style="normal" text-anchor="end" fill="#000" >0,0</text>
<line x1="444.30" y1="551.16" x2="448.50" y2="551.16" stroke="#707070" stroke-width="1"/>
<text x="442.30" y="554.26" font-size="15.5" font-weight="bold" font-style="normal" text-anchor="end" fill="#000" >0,2</text>
<line x1="444.30" y1="494.22" x2="448.50" y2="494.22" stroke="#707070" stroke-width="1"/>
<text x="442.30" y="497.32" font-size="15.5" font-weight="bold" font-style="normal" text-anchor="end" fill="#000" >0,4</text>
<line x1="444.30" y1="437.28" x2="448.50" y2="437.28" stroke="#707070" stroke-width="1"/>
<text x="442.30" y="440.38" font-size="15.5" font-weight="bold" font-style="normal" text-anchor="end" fill="#000" >0,6</text>
<line x1="446.30" y1="579.63" x2="448.50" y2="579.63" stroke="#707070" stroke-width="1"/>
<line x1="446.30" y1="522.69" x2="448.50" y2="522.69" stroke="#707070" stroke-width="1"/>
<line x1="446.30" y1="465.75" x2="448.50" y2="465.75" stroke="#707070" stroke-width="1"/>
<line x1="446.30" y1="408.81" x2="448.50" y2="408.81" stroke="#707070" stroke-width="1"/>
<line x1="472.70" y1="622.50" x2="472.70" y2="626.60" stroke="#707070" stroke-width="1"/>
<text x="472.70" y="639.90" font-size="15.5" font-weight="bold" font-style="normal" text-anchor="middle" fill="#000" >0</text>
<line x1="521.68" y1="622.50" x2="521.68" y2="626.60" stroke="#707070" stroke-width="1"/>
<text x="521.68" y="639.90" font-size="15.5" font-weight="bold" font-style="normal" text-anchor="middle" fill="#000" >2</text>
<line x1="570.66" y1="622.50" x2="570.66" y2="626.60" stroke="#707070" stroke-width="1"/>
<text x="570.66" y="639.90" font-size="15.5" font-weight="bold" font-style="normal" text-anchor="middle" fill="#000" >4</text>
<line x1="619.64" y1="622.50" x2="619.64" y2="626.60" stroke="#707070" stroke-width="1"/>
<text x="619.64" y="639.90" font-size="15.5" font-weight="bold" font-style="normal" text-anchor="middle" fill="#000" >6</text>
<line x1="668.62" y1="622.50" x2="668.62" y2="626.60" stroke="#707070" stroke-width="1"/>
<text x="668.62" y="639.90" font-size="15.5" font-weight="bold" font-style="normal" text-anchor="middle" fill="#000" >8</text>
<line x1="717.60" y1="622.50" x2="717.60" y2="626.60" stroke="#707070" stroke-width="1"/>
<text x="718.40" y="639.90" font-size="15.5" font-weight="bold" font-style="normal" text-anchor="middle" fill="#000" >10</text>
<line x1="497.19" y1="622.50" x2="497.19" y2="624.70" stroke="#707070" stroke-width="1"/>
<line x1="546.17" y1="622.50" x2="546.17" y2="624.70" stroke="#707070" stroke-width="1"/>
<line x1="595.15" y1="622.50" x2="595.15" y2="624.70" stroke="#707070" stroke-width="1"/>
<line x1="644.13" y1="622.50" x2="644.13" y2="624.70" stroke="#707070" stroke-width="1"/>
<line x1="693.11" y1="622.50" x2="693.11" y2="624.70" stroke="#707070" stroke-width="1"/>
<line x1="742.09" y1="622.50" x2="742.09" y2="624.70" stroke="#707070" stroke-width="1"/>
<text x="491.40" y="674.60" font-size="20" font-weight="bold" font-style="normal" text-anchor="start" fill="#000" >AAT/GDH</text>
<text x="588.20" y="674.60" font-size="20.3" font-weight="bold" font-style="normal" text-anchor="start" fill="#000" >ratio,</text>
<text x="656.80" y="674.60" font-size="20" font-weight="bold" font-style="normal" text-anchor="start" fill="#000" >folds</text>
<text transform="translate(404.20,587.40) rotate(-90)" font-size="22" font-weight="bold" font-style="italic">V</text>
<text transform="translate(412.30,573.60) rotate(-90)" font-size="13.5" font-weight="bold" font-style="italic">AMM</text>
<text transform="translate(404.20,536.60) rotate(-90)" font-size="22" font-weight="bold" font-style="normal">,</text>
<text transform="translate(404.00,510.10) rotate(-90)" font-size="22" font-weight="bold" font-style="normal">mM/h</text>
<line x1="484.94" y1="566.20" x2="484.94" y2="576.80" stroke="#444" stroke-width="0.9"/>
<line x1="482.75" y1="566.20" x2="487.14" y2="566.20" stroke="#444" stroke-width="0.9"/>
<line x1="482.75" y1="576.80" x2="487.14" y2="576.80" stroke="#444" stroke-width="0.9"/>
<line x1="497.19" y1="528.30" x2="497.19" y2="570.00" stroke="#444" stroke-width="0.9"/>
<line x1="494.99" y1="528.30" x2="499.39" y2="528.30" stroke="#444" stroke-width="0.9"/>
<line x1="494.99" y1="570.00" x2="499.39" y2="570.00" stroke="#444" stroke-width="0.9"/>
<line x1="521.68" y1="506.10" x2="521.68" y2="522.00" stroke="#444" stroke-width="0.9"/>
<line x1="519.48" y1="506.10" x2="523.88" y2="506.10" stroke="#444" stroke-width="0.9"/>
<line x1="519.48" y1="522.00" x2="523.88" y2="522.00" stroke="#444" stroke-width="0.9"/>
<line x1="595.15" y1="449.10" x2="595.15" y2="487.20" stroke="#444" stroke-width="0.9"/>
<line x1="592.95" y1="449.10" x2="597.35" y2="449.10" stroke="#444" stroke-width="0.9"/>
<line x1="592.95" y1="487.20" x2="597.35" y2="487.20" stroke="#444" stroke-width="0.9"/>
<line x1="717.60" y1="422.20" x2="717.60" y2="452.30" stroke="#444" stroke-width="0.9"/>
<line x1="715.40" y1="422.20" x2="719.80" y2="422.20" stroke="#444" stroke-width="0.9"/>
<line x1="715.40" y1="452.30" x2="719.80" y2="452.30" stroke="#444" stroke-width="0.9"/>
<ellipse cx="477.60" cy="591.50" rx="3.6" ry="4.1" fill="#000"/>
<ellipse cx="484.94" cy="571.60" rx="3.6" ry="4.1" fill="#000"/>
<ellipse cx="497.19" cy="548.80" rx="3.6" ry="4.1" fill="#000"/>
<ellipse cx="521.68" cy="514.00" rx="3.6" ry="4.1" fill="#000"/>
<ellipse cx="595.15" cy="468.40" rx="3.6" ry="4.1" fill="#000"/>
<ellipse cx="717.60" cy="436.60" rx="3.6" ry="4.1" fill="#000"/>
<polyline points="477.60,595.57 478.09,594.21 478.58,592.85 479.07,591.50 479.56,590.15 480.05,588.80 480.54,587.47 481.03,586.14 481.52,584.82 482.01,583.50 482.50,582.20 482.99,580.91 483.48,579.63 483.97,578.36 484.46,577.10 484.94,575.86 485.43,574.62 485.92,573.40 486.41,572.19 486.90,570.99 487.39,569.80 487.88,568.63 488.37,567.46 488.86,566.31 489.35,565.18 489.84,564.05 490.33,562.94 490.82,561.84 491.31,560.75 491.80,559.67 492.29,558.61 492.78,557.55 493.27,556.51 493.76,555.48 494.25,554.47 494.74,553.46 495.23,552.47 495.72,551.48 496.21,550.51 496.70,549.55 497.19,548.60 497.68,547.66 498.17,546.73 498.66,545.81 499.15,544.90 499.64,544.01 500.13,543.12 500.62,542.24 501.11,541.38 501.60,540.52 502.09,539.67 502.58,538.83 503.07,538.00 503.56,537.19 504.05,536.38 504.54,535.58 505.03,534.78 505.52,534.00 506.01,533.23 506.50,532.46 506.99,531.70 507.48,530.96 507.97,530.21 508.46,529.48 508.95,528.76 509.44,528.04 509.92,527.33 510.41,526.63 510.90,525.94 511.39,525.26 511.88,524.58 512.37,523.91 512.86,523.24 513.35,522.59 513.84,521.94 514.33,521.30 514.82,520.66 515.31,520.03 515.80,519.41 516.29,518.79 516.78,518.19 517.27,517.58 517.76,516.99 518.25,516.40 518.74,515.81 519.23,515.23 519.72,514.66 520.21,514.10 520.70,513.54 521.19,512.98 521.68,512.43 522.17,511.89 522.66,511.35 523.15,510.82 523.64,510.29 524.13,509.77 524.62,509.25 525.11,508.74 525.60,508.24 526.09,507.73 526.58,507.24 527.07,506.75 527.56,506.26 528.05,505.78 528.54,505.30 529.03,504.83 529.52,504.36 530.01,503.89 530.50,503.44 530.99,502.98 531.48,502.53 531.97,502.08 532.46,501.64 532.95,501.20 533.44,500.77 533.92,500.34 534.41,499.91 534.90,499.49 535.39,499.07 535.88,498.66 536.37,498.25 536.86,497.84 537.35,497.44 537.84,497.04 538.33,496.64 538.82,496.25 539.31,495.86 539.80,495.48 540.29,495.10 540.78,494.72 541.27,494.34 541.76,493.97 542.25,493.60 542.74,493.24 543.23,492.88 543.72,492.52 544.21,492.16 544.70,491.81 545.19,491.46 545.68,491.11 546.17,490.77 546.66,490.43 547.15,490.09 547.64,489.76 548.13,489.43 548.62,489.10 549.11,488.77 549.60,488.45 550.09,488.13 550.58,487.81 551.07,487.49 551.56,487.18 552.05,486.87 552.54,486.56 553.03,486.26 553.52,485.95 554.01,485.65 554.50,485.35 554.99,485.06 555.48,484.77 555.97,484.47 556.46,484.19 556.95,483.90 557.44,483.62 557.93,483.33 558.41,483.05 558.90,482.78 559.39,482.50 559.88,482.23 560.37,481.96 560.86,481.69 561.35,481.42 561.84,481.16 562.33,480.89 562.82,480.63 563.31,480.38 563.80,480.12 564.29,479.86 564.78,479.61 565.27,479.36 565.76,479.11 566.25,478.86 566.74,478.62 567.23,478.38 567.72,478.13 568.21,477.89 568.70,477.66 569.19,477.42 569.68,477.19 570.17,476.95 570.66,476.72 571.15,476.49 571.64,476.26 572.13,476.04 572.62,475.81 573.11,475.59 573.60,475.37 574.09,475.15 574.58,474.93 575.07,474.72 575.56,474.50 576.05,474.29 576.54,474.07 577.03,473.86 577.52,473.65 578.01,473.45 578.50,473.24 578.99,473.04 579.48,472.83 579.97,472.63 580.46,472.43 580.95,472.23 581.44,472.03 581.93,471.84 582.42,471.64 582.90,471.45 583.39,471.26 583.88,471.06 584.37,470.87 584.86,470.69 585.35,470.50 585.84,470.31 586.33,470.13 586.82,469.94 587.31,469.76 587.80,469.58 588.29,469.40 588.78,469.22 589.27,469.04 589.76,468.87 590.25,468.69 590.74,468.52 591.23,468.34 591.72,468.17 592.21,468.00 592.70,467.83 593.19,467.66 593.68,467.49 594.17,467.33 594.66,467.16 595.15,467.00 595.64,466.83 596.13,466.67 596.62,466.51 597.11,466.35 597.60,466.19 598.09,466.03 598.58,465.87 599.07,465.72 599.56,465.56 600.05,465.41 600.54,465.25 601.03,465.10 601.52,464.95 602.01,464.80 602.50,464.65 602.99,464.50 603.48,464.35 603.97,464.20 604.46,464.06 604.95,463.91 605.44,463.77 605.93,463.62 606.42,463.48 606.91,463.34 607.39,463.20 607.88,463.06 608.37,462.92 608.86,462.78 609.35,462.64 609.84,462.50 610.33,462.37 610.82,462.23 611.31,462.10 611.80,461.96 612.29,461.83 612.78,461.70 613.27,461.57 613.76,461.44 614.25,461.30 614.74,461.18 615.23,461.05 615.72,460.92 616.21,460.79 616.70,460.67 617.19,460.54 617.68,460.41 618.17,460.29 618.66,460.17 619.15,460.04 619.64,459.92 620.13,459.80 620.62,459.68 621.11,459.56 621.60,459.44 622.09,459.32 622.58,459.20 623.07,459.08 623.56,458.97 624.05,458.85 624.54,458.73 625.03,458.62 625.52,458.50 626.01,458.39 626.50,458.28 626.99,458.16 627.48,458.05 627.97,457.94 628.46,457.83 628.95,457.72 629.44,457.61 629.93,457.50 630.42,457.39 630.91,457.28 631.40,457.18 631.88,457.07 632.37,456.96 632.86,456.86 633.35,456.75 633.84,456.65 634.33,456.54 634.82,456.44 635.31,456.34 635.80,456.23 636.29,456.13 636.78,456.03 637.27,455.93 637.76,455.83 638.25,455.73 638.74,455.63 639.23,455.53 639.72,455.43 640.21,455.34 640.70,455.24 641.19,455.14 641.68,455.04 642.17,454.95 642.66,454.85 643.15,454.76 643.64,454.66 644.13,454.57 644.62,454.48 645.11,454.38 645.60,454.29 646.09,454.20 646.58,454.11 647.07,454.01 647.56,453.92 648.05,453.83 648.54,453.74 649.03,453.65 649.52,453.56 650.01,453.48 650.50,453.39 650.99,453.30 651.48,453.21 651.97,453.12 652.46,453.04 652.95,452.95 653.44,452.87 653.93,452.78 654.42,452.70 654.91,452.61 655.40,452.53 655.89,452.44 656.38,452.36 656.86,452.28 657.35,452.19 657.84,452.11 658.33,452.03 658.82,451.95 659.31,451.87 659.80,451.79 660.29,451.71 660.78,451.63 661.27,451.55 661.76,451.47 662.25,451.39 662.74,451.31 663.23,451.23 663.72,451.15 664.21,451.08 664.70,451.00 665.19,450.92 665.68,450.85 666.17,450.77 666.66,450.70 667.15,450.62 667.64,450.54 668.13,450.47 668.62,450.40 669.11,450.32 669.60,450.25 670.09,450.17 670.58,450.10 671.07,450.03 671.56,449.96 672.05,449.88 672.54,449.81 673.03,449.74 673.52,449.67 674.01,449.60 674.50,449.53 674.99,449.46 675.48,449.39 675.97,449.32 676.46,449.25 676.95,449.18 677.44,449.11 677.93,449.04 678.42,448.98 678.91,448.91 679.40,448.84 679.89,448.77 680.38,448.71 680.87,448.64 681.35,448.57 681.84,448.51 682.33,448.44 682.82,448.37 683.31,448.31 683.80,448.24 684.29,448.18 684.78,448.12 685.27,448.05 685.76,447.99 686.25,447.92 686.74,447.86 687.23,447.80 687.72,447.73 688.21,447.67 688.70,447.61 689.19,447.55 689.68,447.49 690.17,447.42 690.66,447.36 691.15,447.30 691.64,447.24 692.13,447.18 692.62,447.12 693.11,447.06 693.60,447.00 694.09,446.94 694.58,446.88 695.07,446.82 695.56,446.76 696.05,446.70 696.54,446.65 697.03,446.59 697.52,446.53 698.01,446.47 698.50,446.41 698.99,446.36 699.48,446.30 699.97,446.24 700.46,446.19 700.95,446.13 701.44,446.07 701.93,446.02 702.42,445.96 702.91,445.91 703.40,445.85 703.89,445.80 704.38,445.74 704.87,445.69 705.36,445.63 705.84,445.58 706.33,445.52 706.82,445.47 707.31,445.42 707.80,445.36 708.29,445.31 708.78,445.26 709.27,445.20 709.76,445.15 710.25,445.10 710.74,445.05 711.23,444.99 711.72,444.94 712.21,444.89 712.70,444.84 713.19,444.79 713.68,444.74 714.17,444.69 714.66,444.64 715.15,444.59 715.64,444.54 716.13,444.49 716.62,444.44 717.11,444.39 717.60,444.34" fill="none" stroke="#d60000" stroke-width="2.5" stroke-linejoin="round" stroke-linecap="butt"/>
<rect x="625.3" y="569.5" width="116.3" height="36.7" fill="#fff" stroke="#111" stroke-width="1.3"/>
<ellipse cx="649.50" cy="579.80" rx="3.4" ry="3.9" fill="#000"/>
<line x1="633.60" y1="595.80" x2="665.80" y2="595.80" stroke="#d60000" stroke-width="2.6"/>
<text x="672.30" y="584.20" font-size="12.2" font-weight="bold" font-style="normal" text-anchor="start" fill="#000" >Experiment</text>
<text x="672.30" y="600.40" font-size="12.2" font-weight="bold" font-style="normal" text-anchor="start" fill="#000" >Theory</text>
</svg>
</body></html>
